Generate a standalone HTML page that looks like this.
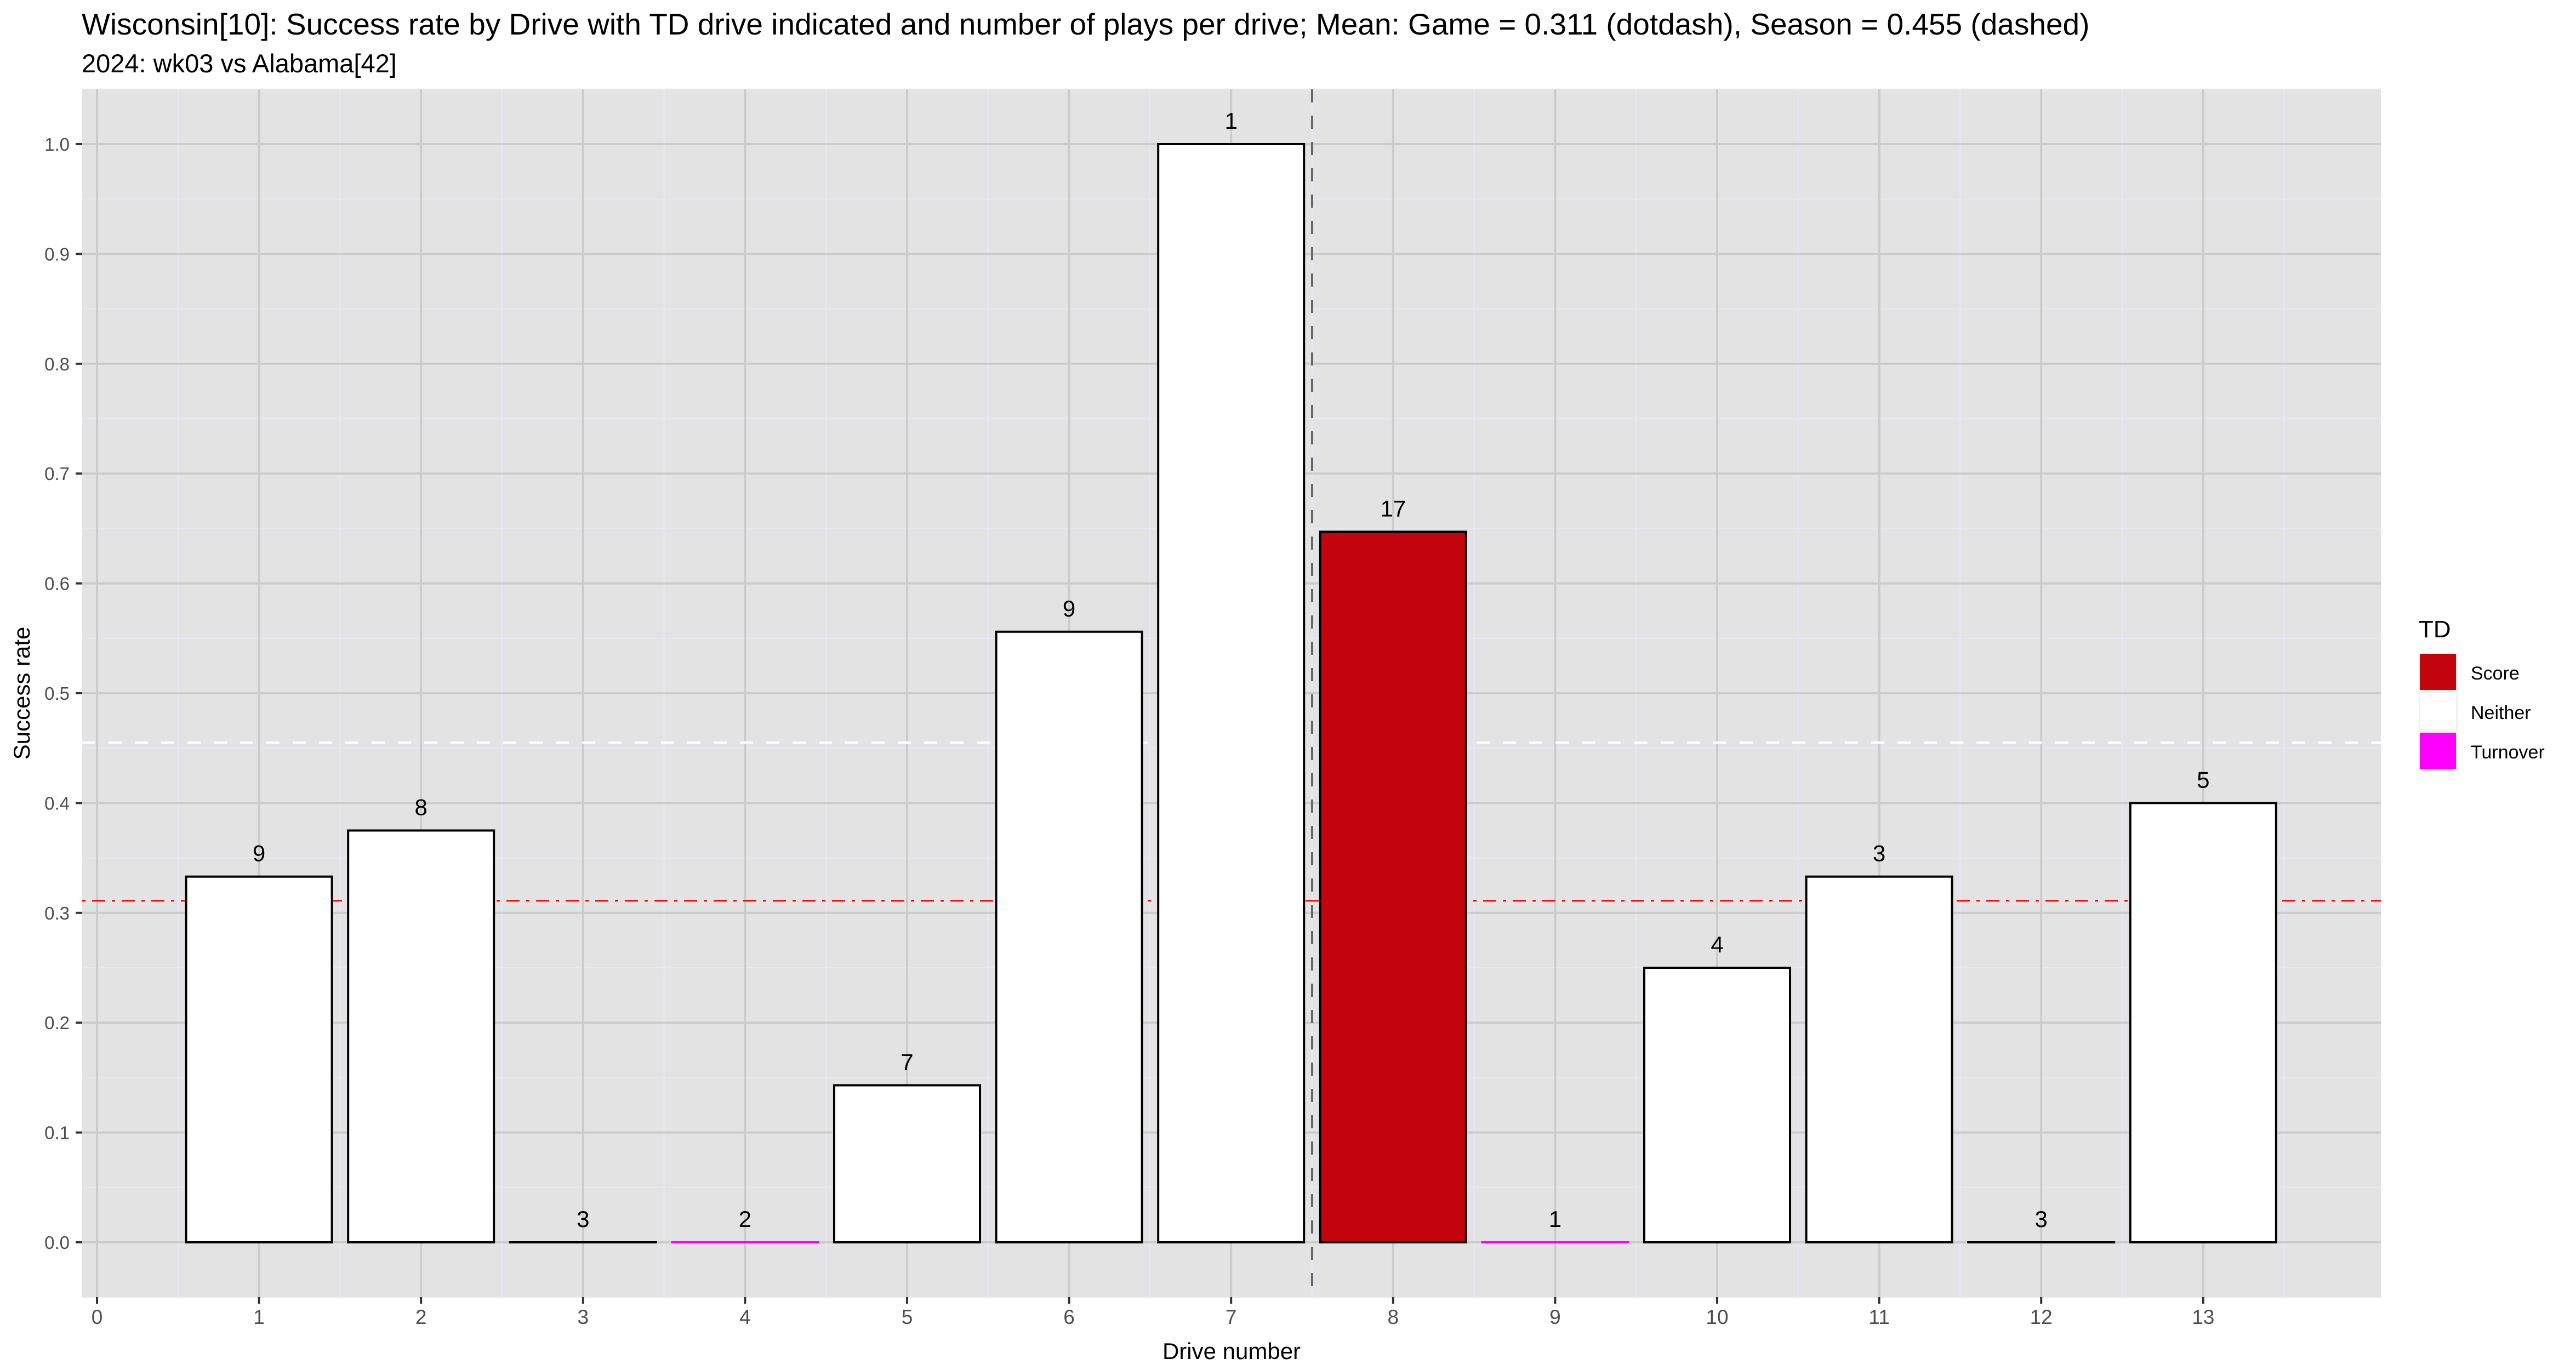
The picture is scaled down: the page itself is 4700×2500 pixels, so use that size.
<!DOCTYPE html>
<html><head><meta charset="utf-8"><style>
html,body{margin:0;padding:0;background:#fff}
svg{display:block;font-family:"Liberation Sans",Arial,sans-serif}
</style></head><body>
<svg id="chart" width="4700" height="2500" viewBox="0 0 4700 2500" xmlns="http://www.w3.org/2000/svg">
<text x="149" y="63" font-size="55" fill="#000">Wisconsin[10]: Success rate by Drive with TD drive indicated and number of plays per drive; Mean: Game = 0.311 (dotdash), Season = 0.455 (dashed)</text>
<text x="149" y="132" font-size="47" fill="#000">2024: wk03 vs Alabama[42]</text>
<rect x="150" y="163" width="4194" height="2204" fill="#e3e3e3"/>
<g id="grid"></g>
<g id="refs"></g>
<g id="bars"></g>
<g id="axes"></g>
<text x="2247" y="2480" font-size="42" text-anchor="middle" fill="#000">Drive number</text>
<text transform="translate(54,1265) rotate(-90)" font-size="42" text-anchor="middle" fill="#000">Success rate</text>
<g>
<text x="4413" y="1163" font-size="44" fill="#000">TD</text>
<rect x="4413" y="1191" width="72" height="215" fill="#f2f2f2"/>
<rect x="4415" y="1193" width="66" height="66" fill="#c4040c"/>
<rect x="4415" y="1265" width="66" height="66" fill="#ffffff"/>
<rect x="4415" y="1337" width="66" height="66" fill="#ff00ff"/>
<text x="4508" y="1240" font-size="34" fill="#000">Score</text>
<text x="4508" y="1312" font-size="34" fill="#000">Neither</text>
<text x="4508" y="1384" font-size="34" fill="#000">Turnover</text>
</g>
</svg>
<script>
const drives = [1,2,3,4,5,6,7,8,9,10,11,12,13];
const rates = [0.333,0.375,0,0,0.143,0.556,1.0,0.647,0,0.25,0.333,0,0.4];
const plays = [9,8,3,2,7,9,1,17,1,4,3,3,5];
const outcomes = ["Neither","Neither","Neither","Turnover","Neither","Neither","Neither","Score","Turnover","Neither","Neither","Neither","Neither"];
const yTicks = [0,0.1,0.2,0.3,0.4,0.5,0.6,0.7,0.8,0.9,1.0];
const xTicks = [0,1,2,3,4,5,6,7,8,9,10,11,12,13];
const gameMean = [0.311];
const seasonMean = [0.455];
const halfLine = [7.5];

const NS="http://www.w3.org/2000/svg";
const PL=150, PR=4344, PT=163, PB=2367;
const UNIT=295.6;
const X = d => 177 + UNIT*d;
const Y = v => 2267 - 2004*v;
const colors = {Score:"#c4040c",Neither:"#ffffff",Turnover:"#ff00ff"};
function mk(tag, attrs, parent){const e=document.createElementNS(NS,tag);for(const k in attrs)e.setAttribute(k,attrs[k]);document.getElementById(parent).appendChild(e);return e;}

for(let v=-0.05; v<=1.051; v+=0.1){
  const l=mk('line',{x1:PL,x2:PR,y1:Y(v),y2:Y(v),stroke:'#e8e8f6','stroke-width':2},'grid');
  
  
}
for(let d=0.5; d<14; d+=1){
  const l=mk('line',{x1:X(d),x2:X(d),y1:PT,y2:PB,stroke:'#e8e8f6','stroke-width':2},'grid');
  
  
}
yTicks.forEach(v=>{
  const l=mk('line',{x1:PL,x2:PR,y1:Y(v),y2:Y(v),stroke:'#cbcbcb','stroke-width':4},'grid');
  
  
  const t=mk('line',{x1:138,x2:150,y1:Y(v),y2:Y(v),stroke:'#333','stroke-width':4},'axes');
  
  
  const tx=mk('text',{x:127,y:Y(v)+12,'font-size':33,'text-anchor':'end',fill:'#4d4d4d'},'axes');
  tx.textContent=v.toFixed(1);
  
  
});
xTicks.forEach(d=>{
  const l=mk('line',{x1:X(d),x2:X(d),y1:PT,y2:PB,stroke:'#cbcbcb','stroke-width':4},'grid');
  
  
  const t=mk('line',{x1:X(d),x2:X(d),y1:PB,y2:PB+12,stroke:'#333','stroke-width':4},'axes');
  
  
  const tx=mk('text',{x:X(d),y:2416,'font-size':37,'text-anchor':'middle',fill:'#4d4d4d'},'axes');
  tx.textContent=d;
  
  
});
const s=mk('line',{x1:PL,x2:PR,y1:Y(seasonMean[0]),y2:Y(seasonMean[0]),stroke:'#fff','stroke-width':4,'stroke-dasharray':'24 24'},'refs');


const g=mk('line',{x1:PL,x2:PR,y1:Y(gameMean[0]),y2:Y(gameMean[0]),stroke:'#ff0000','stroke-width':3,'stroke-dasharray':'6 12 24 12'},'refs');


const h=mk('line',{x1:X(halfLine[0]),x2:X(halfLine[0]),y1:PT,y2:PB,stroke:'#666','stroke-width':4,'stroke-dasharray':'24 24'},'refs');


drives.forEach((d,i)=>{
  const v=rates[i], c=colors[outcomes[i]];
  const x0=X(d-0.45), w=UNIT*0.9;
  const stroke = outcomes[i]==="Turnover" ? c : '#000';
  const r=mk('rect',{x:x0,y:Y(v),width:w,height:Math.max(Y(0)-Y(v),0.01),fill:c,stroke:stroke,'stroke-width':4},'bars');
  
  
  const t=mk('text',{x:X(d),y:Y(v)-28,'font-size':42,'text-anchor':'middle',fill:'#000'},'bars');
  t.textContent=plays[i];
  
  
});
</script>
</body></html>
